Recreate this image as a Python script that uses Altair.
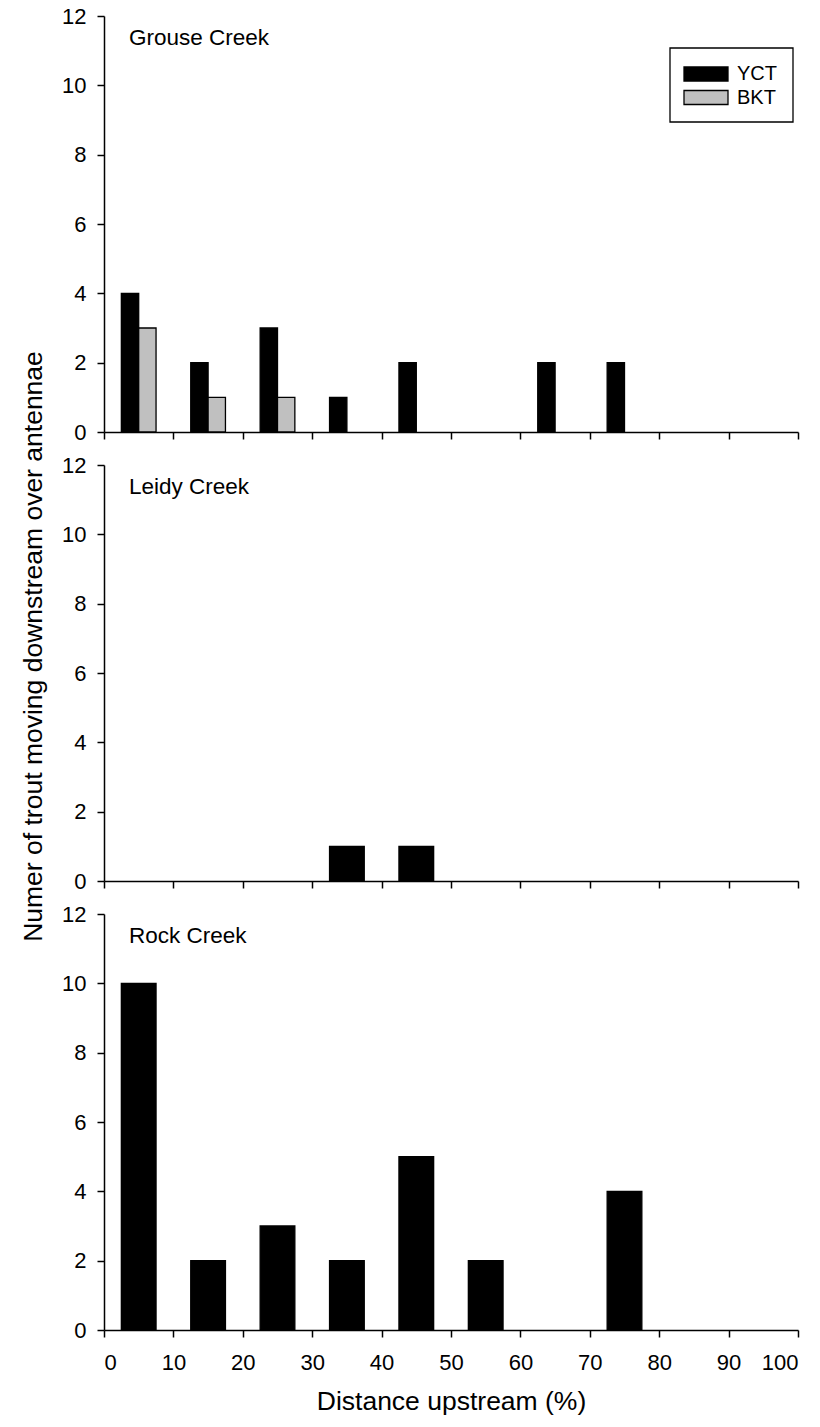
import altair as alt
import pandas as pd

# Trout counts per 10 % distance bin (bin start values)
bins = [0, 10, 20, 30, 40, 50, 60, 70, 80, 90]
grouse_yct = [4, 2, 3, 1, 2, 0, 2, 2, 0, 0]
grouse_bkt = [3, 1, 1, 0, 0, 0, 0, 0, 0, 0]
leidy_yct = [0, 0, 0, 1, 1, 0, 0, 0, 0, 0]
rock_yct = [10, 2, 3, 2, 5, 2, 0, 4, 0, 0]

species = ["YCT", "BKT"]
species_fill = ["#000000", "#c0c0c0"]
x_ticks = [0, 10, 20, 30, 40, 50, 60, 70, 80, 90, 100]
y_ticks = [0, 2, 4, 6, 8, 10, 12]

FONT = "Liberation Sans"
W, H = 694, 416

rows = []
for creek, sp, vals in [
    ("Grouse Creek", "YCT", grouse_yct),
    ("Grouse Creek", "BKT", grouse_bkt),
    ("Leidy Creek", "YCT", leidy_yct),
    ("Rock Creek", "YCT", rock_yct),
]:
    for b, v in zip(bins, vals):
        rows.append({"creek": creek, "species": sp, "bin": b, "count": v})
df = pd.DataFrame(rows)


def panel(creek, paired, bottom, y_title, legend):
    base = (
        alt.Chart(df)
        .transform_filter(alt.datum.creek == creek)
        .transform_filter(alt.datum.count > 0)
    )
    if paired:
        # YCT on the left half, BKT on the right half of each bin
        base = base.transform_calculate(
            x0="datum.bin + 2.5 + (datum.species == 'BKT' ? 2.5 : 0)",
            x1="datum.bin + 5 + (datum.species == 'BKT' ? 2.5 : 0)",
        )
    else:
        base = base.transform_calculate(x0="datum.bin + 2.5", x1="datum.bin + 7.5")

    x_axis = alt.Axis(
        values=x_ticks,
        labels=bottom,
        title="Distance upstream (%)" if bottom else None,
        titlePadding=15,
    )
    if y_title:
        # shared title, centred on the whole stack of panels
        y_axis = alt.Axis(values=y_ticks, title=y_title, titlePadding=14, titleY=181)
    else:
        y_axis = alt.Axis(values=y_ticks, title=None)

    bars = base.mark_bar(stroke="black", strokeWidth=1.3).encode(
        x=alt.X("x0:Q", scale=alt.Scale(domain=[0, 100], nice=False), axis=x_axis),
        x2="x1:Q",
        y=alt.Y("count:Q", scale=alt.Scale(domain=[0, 12], nice=False), axis=y_axis),
        y2=alt.datum(0),
        fill=alt.Fill(
            "species:N",
            scale=alt.Scale(domain=species, range=species_fill),
            legend=None,
        ),
    )

    title = (
        alt.Chart(pd.DataFrame({"label": [creek]}))
        .mark_text(align="left", baseline="alphabetic", font=FONT, fontSize=22.5, color="black")
        .encode(x=alt.value(25), y=alt.value(29), text="label:N")
    )

    layers = [bars, title]

    if legend:
        one = pd.DataFrame({"k": [0]})
        box = alt.Chart(one).mark_rect(fill="white", stroke="black", strokeWidth=1.3).encode(
            x=alt.value(566), x2=alt.value(689), y=alt.value(32), y2=alt.value(106)
        )
        layers.append(box)
        for i, (sp, col) in enumerate(zip(species, species_fill)):
            y0 = 51 + i * 23.5
            sw = alt.Chart(one).mark_rect(fill=col, stroke="black", strokeWidth=1.3).encode(
                x=alt.value(580), x2=alt.value(624), y=alt.value(y0), y2=alt.value(y0 + 14)
            )
            lab = (
                alt.Chart(pd.DataFrame({"label": [sp]}))
                .mark_text(align="left", baseline="middle", font=FONT, fontSize=20, color="black")
                .encode(x=alt.value(633), y=alt.value(y0 + 7), text="label:N")
            )
            layers += [sw, lab]

    return alt.layer(*layers).properties(width=W, height=H)


chart = (
    alt.vconcat(
        panel("Grouse Creek", True, False, None, True),
        panel("Leidy Creek", False, False, "Numer of trout moving downstream over antennae", False),
        panel("Rock Creek", False, True, None, False),
        spacing=33,
        bounds="flush",
    )
    .properties(padding={"left": 20, "top": 5, "right": 5, "bottom": 5}, background="white")
    .configure_view(stroke=None)
    .configure_axis(
        grid=False,
        domainColor="black",
        domainWidth=1.5,
        tickColor="black",
        tickWidth=1.5,
        tickSize=7,
        labelFont=FONT,
        labelFontSize=22,
        labelColor="black",
        titleFont=FONT,
        titleFontSize=26.5,
        titleFontWeight="normal",
        titleColor="black",
    )
    .configure_axisX(labelPadding=15)
    .configure_axisY(labelPadding=11)
)

chart.save("out.html", embed_options={"renderer": "svg", "actions": False})
